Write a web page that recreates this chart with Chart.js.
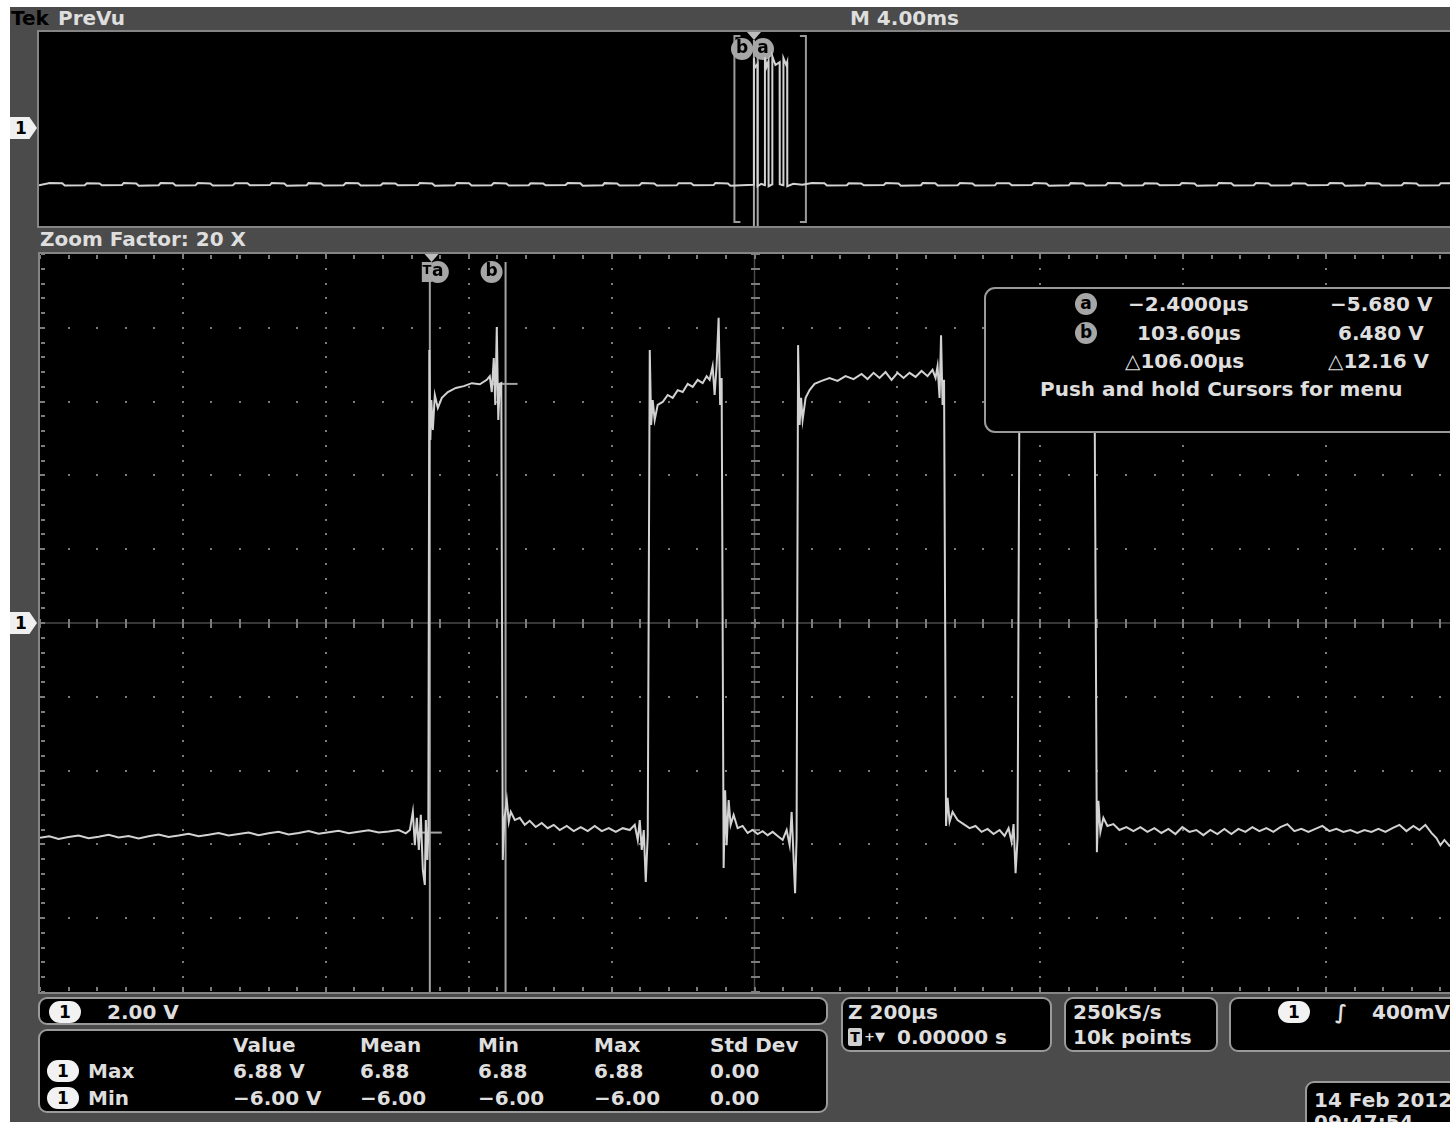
<!DOCTYPE html>
<html><head><meta charset="utf-8">
<script src="https://cdn.jsdelivr.net/npm/chart.js@4.4.0/dist/chart.umd.min.js"></script>
<style>
html,body{margin:0;padding:0;background:#fff;width:1450px;height:1122px;overflow:hidden;position:relative;}
#frame{position:absolute;left:10px;top:7px;width:1460px;height:1130px;background:#4b4b4b;}
.t{position:absolute;color:#dedede;font-family:'DejaVu Sans',sans-serif;font-weight:bold;font-size:20px;line-height:20px;white-space:nowrap;}
.panel{position:absolute;border:2px solid #858585;background:#000;}
.box{position:absolute;border:2px solid #9a9a9a;border-radius:9px;background:#000;}
.ch{position:absolute;background:#f2f2f2;color:#000;border-radius:11px;width:32px;height:22px;font:bold 17px 'DejaVu Sans',sans-serif;text-align:center;line-height:22px;}
.mk{position:absolute;width:27px;height:22px;background:#f0f0f0;clip-path:polygon(0 0,72% 0,100% 50%,72% 100%,0 100%);color:#000;font:bold 17px 'DejaVu Sans',sans-serif;line-height:22px;padding-left:5px;box-sizing:border-box;}
.cl{position:absolute;width:22px;height:22px;border-radius:11px;background:#a6a6a6;color:#000;font:bold 17px 'DejaVu Sans',sans-serif;text-align:center;line-height:20px;}
canvas{position:absolute;}
</style></head>
<body>
<div id="frame"></div>
<div class="panel" style="left:37px;top:30px;width:1430px;height:194px;"></div>
<div class="panel" style="left:38px;top:252px;width:1429px;height:738px;"></div>
<canvas id="upper" width="1430" height="194" style="left:39px;top:32px;"></canvas>
<canvas id="main" width="1429" height="738" style="left:40px;top:254px;"></canvas>
<div class="mk" style="left:10px;top:117px;">1</div>
<div class="mk" style="left:10px;top:612px;">1</div>
<div class="box" style="left:984px;top:287px;width:482px;height:142px;border-radius:11px;"></div>
<div class="box" style="left:38px;top:997px;width:786px;height:24px;"></div>
<div class="box" style="left:38px;top:1029px;width:786px;height:80px;"></div>
<div class="box" style="left:841px;top:997px;width:207px;height:51px;"></div>
<div class="box" style="left:1064px;top:997px;width:150px;height:51px;"></div>
<div class="box" style="left:1229px;top:997px;width:237px;height:51px;"></div>
<div class="box" style="left:1305px;top:1081px;width:160px;height:60px;"></div>
<div id="texts"></div>
<script>
// ---------- data ----------
const zoomWindowUs = [-548, 1452];          // zoomed time window (µs), Z 200µs/div
const upperWindowMs = [-20, 20];            // PreVu window (ms), M 4.00ms/div
const voltRange = [-10, 10];                // 2.00 V/div, 10 divisions
const cursorTimesUs = [-2.4, 103.6];        // cursor a, b
const cursorVolts = [-5.68, 6.48];
const cursorNames = ['a', 'b'];

const mainTimeUs = [
 -548,-535,-522,-508,-494,-480,-466,-452,-438,-424,-410,-396,-382,-368,-354,-340,-326,-312,-298,-284,
 -270,-256,-242,-228,-214,-200,-186,-172,-158,-144,-130,-116,-102,-88,-74,-60,-46,-36,
 -30.3,-26.2,-23.4,-20.6,-17.8,-15.0,-12.2,-9.4,-8.0,-5.9,-4.5,
 -3.1,-1.7,-0.3,1.8,4.6,8.8,14.4,22.8,34.0,45.2,56.4,67.6,77.3,81.5,84.3,87.1,89.2,91.3,93.4,95.5,97.6,
 99.7,101.8,105.3,108.1,110.9,116.5,123.5,130.5,137.4,145.8,154.2,162.6,171.0,179.4,189.2,199.0,208.8,218.6,228.4,238.2,
 248.0,257.8,267.6,277.4,284.4,288.6,291.4,294.2,297.0,299.8,302.6,
 305.4,307.4,309.5,312.3,316.5,323.5,330.5,337.5,344.5,351.5,358.5,365.5,372.5,379.4,385.0,389.2,393.4,396.2,399.0,401.8,403.9,406.0,
 408.8,410.9,413.0,415.8,418.6,422.8,428.4,435.4,442.4,449.4,456.4,463.4,470.4,477.4,484.4,491.4,497.0,501.2,504.0,506.8,508.8,510.9,
 513.0,515.1,517.2,519.3,523.5,529.1,536.1,545.9,557.0,568.2,579.4,590.6,601.8,610.2,618.6,627.0,635.4,643.8,652.2,660.6,669.0,677.4,685.8,694.2,701.2,705.4,708.2,711.0,713.1,715.2,717.3,
 720.1,722.2,725.0,729.2,736.2,744.6,753.0,761.4,769.8,778.2,786.6,795.0,802.0,807.6,811.8,814.6,817.4,820.2,
 823.0,825.8,831.4,844.0,865.0,885.9,906.9,920.9,925.1,927.9,
 931.2,933.3,936.1,940.3,945.9,954.3,962.7,972.5,982.3,992.1,1001.9,1011.7,1021.5,1031.3,1041.1,1050.8,1060.6,1070.4,1080.2,1090.0,
 1099.8,1109.6,1119.4,1129.2,1139.0,1148.8,1158.6,1168.4,1178.2,1188.0,1197.8,1207.6,1217.4,1227.2,1237.0,1246.8,1256.6,1266.4,1276.2,1286.0,
 1295.8,1305.6,1315.4,1325.2,1335.0,1344.8,1354.6,1364.4,1374.2,1382.6,1391.0,1399.4,1406.4,1412.0,1417.6,1424.6,1438.6
];
const mainVolts = [
 -5.82,-5.78,-5.85,-5.80,-5.76,-5.83,-5.79,-5.74,-5.81,-5.77,-5.84,-5.78,-5.73,-5.80,-5.76,-5.71,-5.78,-5.74,-5.69,-5.76,
 -5.72,-5.68,-5.75,-5.70,-5.66,-5.73,-5.69,-5.64,-5.71,-5.67,-5.63,-5.70,-5.66,-5.62,-5.68,-5.65,-5.61,-5.70,
 -5.61,-5.12,-6.02,-5.28,-6.15,-5.20,-6.69,-7.10,-5.34,-6.42,-5.69,
 7.40,4.96,6.04,5.23,6.18,5.83,6.10,6.26,6.37,6.42,6.50,6.47,6.59,6.69,6.26,7.18,5.91,8.02,5.50,6.48,6.50,
 -6.42,-5.34,-4.80,-5.39,-5.12,-5.34,-5.28,-5.47,-5.36,-5.53,-5.42,-5.56,-5.47,-5.61,-5.50,-5.64,-5.53,-5.64,-5.50,-5.64,
 -5.56,-5.66,-5.56,-5.61,-5.47,-5.88,-5.34,-6.15,-5.61,-7.02,-5.75,
 7.40,5.37,6.04,5.50,5.91,5.99,6.18,6.10,6.31,6.26,6.48,6.40,6.59,6.50,6.69,6.59,6.96,6.18,6.99,8.27,5.91,6.64,
 -6.64,-4.53,-6.02,-4.80,-5.47,-5.20,-5.56,-5.50,-5.69,-5.61,-5.72,-5.64,-5.75,-5.66,-5.77,-5.88,-5.61,-6.02,-5.12,-6.42,-7.32,-5.83,
 7.53,5.37,6.10,5.50,6.10,6.31,6.48,6.56,6.64,6.56,6.69,6.61,6.75,6.61,6.78,6.64,6.80,6.59,6.78,6.64,6.78,6.67,6.83,6.69,6.86,6.64,6.96,6.10,7.80,5.91,6.59,
 -5.50,-4.74,-5.39,-5.12,-5.34,-5.45,-5.56,-5.50,-5.66,-5.58,-5.72,-5.61,-5.77,-5.56,-5.93,-5.45,-6.78,-5.83,
 7.40,5.37,6.04,6.37,6.53,6.61,6.67,6.80,7.94,6.59,
 -6.21,-4.82,-5.66,-5.28,-5.50,-5.45,-5.61,-5.53,-5.64,-5.53,-5.66,-5.56,-5.69,-5.58,-5.72,-5.53,-5.66,-5.61,-5.75,-5.61,
 -5.72,-5.58,-5.72,-5.58,-5.66,-5.53,-5.64,-5.56,-5.66,-5.53,-5.45,-5.64,-5.58,-5.66,-5.58,-5.50,-5.64,-5.58,-5.66,-5.61,
 -5.69,-5.61,-5.66,-5.58,-5.66,-5.56,-5.47,-5.64,-5.50,-5.61,-5.47,-5.69,-5.83,-6.02,-5.88,-6.04,-5.96
];

const upperTimeMs = [
 -20.00,
 -19.70,-19.35,-19.28,-18.72, -18.66,-18.31,-18.24,-17.68, -17.63,-17.28,-17.21,-16.65, -16.60,-16.25,-16.18,-15.62,
 -15.56,-15.21,-15.14,-14.58, -14.52,-14.17,-14.10,-13.54, -13.49,-13.14,-13.07,-12.51, -12.46,-12.11,-12.04,-11.48,
 -11.42,-11.07,-11.00,-10.44, -10.38,-10.03,-9.96,-9.40, -9.35,-9.00,-8.93,-8.37, -8.32,-7.97,-7.90,-7.34,
 -7.28,-6.93,-6.86,-6.30, -6.25,-5.90,-5.83,-5.27, -5.21,-4.86,-4.79,-4.23, -4.18,-3.83,-3.76,-3.20,
 -3.14,-2.79,-2.72,-2.16, -2.11,-1.76,-1.69,-1.13, -1.08,-0.73,-0.66,-0.02,
 -0.002,0.020,0.098,0.100,0.200,0.303,0.306,0.350,0.405,0.408,0.510,0.513,0.600,0.717,0.720,0.820,0.823,0.900,0.928,0.931,1.10,1.35,
 1.62,1.97,2.04,2.60, 2.65,3.00,3.07,3.63, 3.69,4.04,4.11,4.67, 4.72,5.07,5.14,5.70, 5.76,6.11,6.18,6.74,
 6.79,7.14,7.21,7.77, 7.83,8.18,8.25,8.81, 8.86,9.21,9.28,9.84, 9.90,10.25,10.32,10.88, 10.93,11.28,11.35,11.91,
 11.97,12.32,12.39,12.95, 13.00,13.35,13.42,13.98, 14.04,14.39,14.46,15.02, 15.07,15.42,15.49,16.05,
 16.11,16.46,16.53,17.09, 17.14,17.49,17.56,18.12, 18.18,18.53,18.60,19.16, 19.21,19.56,19.63,20.00
];
const upperVolts = [
 -5.80,
 -5.57,-5.60,-5.83,-5.80, -5.59,-5.62,-5.81,-5.78, -5.56,-5.61,-5.84,-5.80, -5.58,-5.60,-5.82,-5.79,
 -5.57,-5.62,-5.83,-5.81, -5.59,-5.60,-5.81,-5.78, -5.56,-5.61,-5.84,-5.80, -5.58,-5.62,-5.82,-5.79,
 -5.57,-5.60,-5.83,-5.80, -5.59,-5.61,-5.81,-5.78, -5.56,-5.62,-5.84,-5.81, -5.58,-5.60,-5.82,-5.79,
 -5.57,-5.61,-5.83,-5.80, -5.59,-5.62,-5.81,-5.78, -5.56,-5.60,-5.84,-5.80, -5.58,-5.61,-5.82,-5.79,
 -5.57,-5.62,-5.83,-5.81, -5.59,-5.60,-5.81,-5.78, -5.56,-5.61,-5.84,-5.75,
 7.30,6.30,6.70,-5.90,-5.65,-5.80,7.40,6.40,7.00,-5.90,-5.70,7.50,6.60,6.90,-5.70,-5.80,7.30,6.60,6.90,-5.90,-5.65,-5.75,
 -5.57,-5.60,-5.83,-5.80, -5.59,-5.62,-5.81,-5.78, -5.56,-5.61,-5.84,-5.80, -5.58,-5.60,-5.82,-5.79, -5.57,-5.62,-5.83,-5.81,
 -5.59,-5.60,-5.81,-5.78, -5.56,-5.61,-5.84,-5.80, -5.58,-5.62,-5.82,-5.79, -5.57,-5.60,-5.83,-5.80, -5.59,-5.61,-5.81,-5.78,
 -5.56,-5.62,-5.84,-5.81, -5.58,-5.60,-5.82,-5.79, -5.57,-5.61,-5.83,-5.80, -5.59,-5.62,-5.81,-5.78,
 -5.56,-5.60,-5.84,-5.80, -5.58,-5.61,-5.82,-5.79, -5.57,-5.62,-5.83,-5.81, -5.59,-5.60,-5.81,-5.80
];

const measHeaders = ['Value', 'Mean', 'Min', 'Max', 'Std Dev'];
const measMaxRow = ['6.88 V', '6.88', '6.88', '6.88', '0.00'];
const measMinRow = ['\u22126.00 V', '\u22126.00', '\u22126.00', '\u22126.00', '0.00'];

// ---------- text overlay ----------
const tb = document.getElementById('texts');
function txt(s, x, cy, style) {
  const d = document.createElement('div');
  d.className = 't';
  d.textContent = s;
  d.style.left = x + 'px';
  d.style.top = (cy - 10) + 'px';
  if (style) d.style.cssText += style;
  tb.appendChild(d);
  return d;
}
function pill(s, x, cy) {
  const d = document.createElement('div');
  d.className = 'ch'; d.textContent = s;
  d.style.left = x + 'px'; d.style.top = (cy - 11) + 'px';
  tb.appendChild(d);
}
function circ(s, cx, cy) {
  const d = document.createElement('div');
  d.className = 'cl'; d.textContent = s;
  d.style.left = (cx - 11) + 'px'; d.style.top = (cy - 11) + 'px';
  tb.appendChild(d);
}
txt('Tek', 11, 18, 'color:#000;');
txt('PreVu', 58, 18);
txt('M 4.00ms', 850, 18);
txt('Zoom Factor: 20 X', 40, 239);
// cursor readout
circ('a', 1086, 304); circ('b', 1086, 333);
txt('\u22122.4000\u00b5s', 1128, 304);
txt('\u22125.680 V', 1330, 304);
txt('103.60\u00b5s', 1137, 333);
txt('6.480 V', 1338, 333);
txt('\u25b3106.00\u00b5s', 1125, 361);
txt('\u25b312.16 V', 1328, 361);
txt('Push and hold Cursors for menu', 1040, 389);
// bottom
pill('1', 49, 1012);
txt('2.00 V', 107, 1012);
const colX = [233, 360, 478, 594, 710];
measHeaders.forEach((h, i) => txt(h, colX[i], 1045));
pill('1', 47, 1071); txt('Max', 88, 1071);
pill('1', 47, 1098); txt('Min', 88, 1098);
measMaxRow.forEach((h, i) => txt(h, colX[i], 1071));
measMinRow.forEach((h, i) => txt(h, colX[i], 1098));
txt('Z 200\u00b5s', 848, 1012);
txt('T', 848, 1037, 'background:#cfcfcf;color:#000;font-size:14px;line-height:18px;width:14px;height:18px;text-align:center;border-radius:2px;top:1028px;');
txt('+\u25bc', 864, 1037, 'font-size:13px;');
txt('0.00000 s', 897, 1037);
txt('250kS/s', 1073, 1012);
txt('10k points', 1073, 1037);
pill('1', 1278, 1012);
txt('\u222b', 1335, 1012, 'font-style:italic;');
txt('400mV', 1372, 1012);
txt('14 Feb  2012', 1314, 1100);
txt('09:47:54', 1314, 1122);

// ---------- plugins ----------
function label(ctx, s, cx, cy) {
  ctx.fillStyle = '#a6a6a6';
  ctx.beginPath(); ctx.arc(cx, cy, 11, 0, Math.PI * 2); ctx.fill();
  ctx.fillStyle = '#000';
  ctx.font = 'bold 17px "DejaVu Sans"';
  ctx.textAlign = 'center'; ctx.textBaseline = 'middle';
  ctx.fillText(s, cx, cy);
}
const mainPlugin = {
  id: 'scopeMain',
  beforeDatasetsDraw(chart) {
    if (chart.canvas.id !== 'main') return;
    const { ctx, chartArea: a, scales: { x, y } } = chart;
    const xd = (x.max - x.min) / 10, yd = (y.max - y.min) / 10;
    ctx.save();
    const cx = x.getPixelForValue(x.min + 5 * xd), cy = y.getPixelForValue(0);
    ctx.strokeStyle = '#4a4a4a'; ctx.lineWidth = 1.5;
    ctx.beginPath(); ctx.moveTo(a.left, cy); ctx.lineTo(a.right, cy);
    ctx.moveTo(cx, a.top); ctx.lineTo(cx, a.bottom); ctx.stroke();
    ctx.fillStyle = '#7c7c7c';
    for (let i = 0; i <= 10; i++) {
      const px = Math.round(x.getPixelForValue(x.min + i * xd));
      for (let j = 0; j <= 50; j++) {
        const py = Math.round(y.getPixelForValue(y.min + j * yd / 5));
        if (i === 5) ctx.fillRect(px - 4, py - 1, 9, 2);
        else if (i === 0) ctx.fillRect(px + 1, py - 1, 4, 2);
        else if (i === 10) ctx.fillRect(px - 5, py - 1, 4, 2);
        else ctx.fillRect(px - 1, py - 1, 2, 2);
      }
    }
    for (let j = 0; j <= 10; j++) {
      const py = Math.round(y.getPixelForValue(y.min + j * yd));
      for (let i = 0; i <= 50; i++) {
        const px = Math.round(x.getPixelForValue(x.min + i * xd / 5));
        if (j === 5) ctx.fillRect(px - 1, py - 4, 2, 9);
        else if (j === 0) ctx.fillRect(px - 1, py - 5, 2, 4);
        else if (j === 10) ctx.fillRect(px - 1, py + 1, 2, 4);
        else ctx.fillRect(px - 1, py - 1, 2, 2);
      }
    }
    // cursors
    ctx.strokeStyle = '#a3a3a3'; ctx.lineWidth = 2;
    cursorTimesUs.forEach((t, i) => {
      const px = x.getPixelForValue(t);
      const py = y.getPixelForValue(cursorVolts[i]);
      ctx.beginPath(); ctx.moveTo(px, a.top + 8); ctx.lineTo(px, a.bottom); ctx.stroke();
      ctx.beginPath(); ctx.moveTo(px - 13, py); ctx.lineTo(px + 12, py); ctx.stroke();
    });
    // trigger marker and cursor labels
    const tx = x.getPixelForValue(0);
    ctx.fillStyle = '#bdbdbd';
    ctx.beginPath(); ctx.moveTo(tx - 7, a.top); ctx.lineTo(tx + 7, a.top); ctx.lineTo(tx, a.top + 8); ctx.fill();
    const pa = x.getPixelForValue(cursorTimesUs[0]), pb = x.getPixelForValue(cursorTimesUs[1]);
    label(ctx, cursorNames[0], pa + 8, a.top + 18);
    ctx.fillStyle = '#a6a6a6'; ctx.fillRect(pa - 8, a.top + 8, 10, 20);
    ctx.fillStyle = '#000'; ctx.font = 'bold 13px "DejaVu Sans"'; ctx.textAlign = 'center'; ctx.textBaseline = 'middle';
    ctx.fillText('T', pa - 3, a.top + 17);
    label(ctx, cursorNames[1], pb - 14, a.top + 18);
    ctx.restore();
  }
};
const upperPlugin = {
  id: 'scopeUpper',
  beforeDatasetsDraw(chart) {
    if (chart.canvas.id !== 'upper') return;
    const { ctx, chartArea: a, scales: { x } } = chart;
    ctx.save();
    ctx.strokeStyle = '#9a9a9a'; ctx.lineWidth = 2;
    const xl = x.getPixelForValue(zoomWindowUs[0] / 1000), xr = x.getPixelForValue(zoomWindowUs[1] / 1000);
    ctx.beginPath();
    ctx.moveTo(xl + 6, a.top + 4); ctx.lineTo(xl, a.top + 4); ctx.lineTo(xl, a.bottom - 4); ctx.lineTo(xl + 6, a.bottom - 4);
    ctx.moveTo(xr - 6, a.top + 4); ctx.lineTo(xr, a.top + 4); ctx.lineTo(xr, a.bottom - 4); ctx.lineTo(xr - 6, a.bottom - 4);
    ctx.stroke();
    ctx.strokeStyle = '#a8a8a8';
    cursorTimesUs.forEach(t => {
      const px = x.getPixelForValue(t / 1000);
      ctx.beginPath(); ctx.moveTo(px, a.top + 8); ctx.lineTo(px, a.bottom); ctx.stroke();
    });
    const tx = x.getPixelForValue(0);
    ctx.fillStyle = '#bdbdbd';
    ctx.beginPath(); ctx.moveTo(tx - 7, a.top); ctx.lineTo(tx + 7, a.top); ctx.lineTo(tx, a.top + 8); ctx.fill();
    label(ctx, cursorNames[1], tx - 12, a.top + 17);
    label(ctx, cursorNames[0], tx + 9, a.top + 17);
    ctx.restore();
  }
};

function makeChart(id, xs, ys, xr, plugin) {
  return new Chart(document.getElementById(id), {
    type: 'scatter',
    data: { datasets: [{ data: xs.map((t, i) => ({ x: t, y: ys[i] })), showLine: true,
      borderColor: '#d2d2d2', borderWidth: 2, pointRadius: 0, tension: 0, fill: false }] },
    options: {
      responsive: false, animation: false, events: [],
      layout: { padding: 0 },
      plugins: { legend: { display: false }, tooltip: { enabled: false } },
      scales: {
        x: { type: 'linear', min: xr[0], max: xr[1], display: false },
        y: { type: 'linear', min: voltRange[0], max: voltRange[1], display: false }
      }
    },
    plugins: [plugin]
  });
}
makeChart('upper', upperTimeMs, upperVolts, upperWindowMs, upperPlugin);
makeChart('main', mainTimeUs, mainVolts, zoomWindowUs, mainPlugin);
</script>
</body></html>
